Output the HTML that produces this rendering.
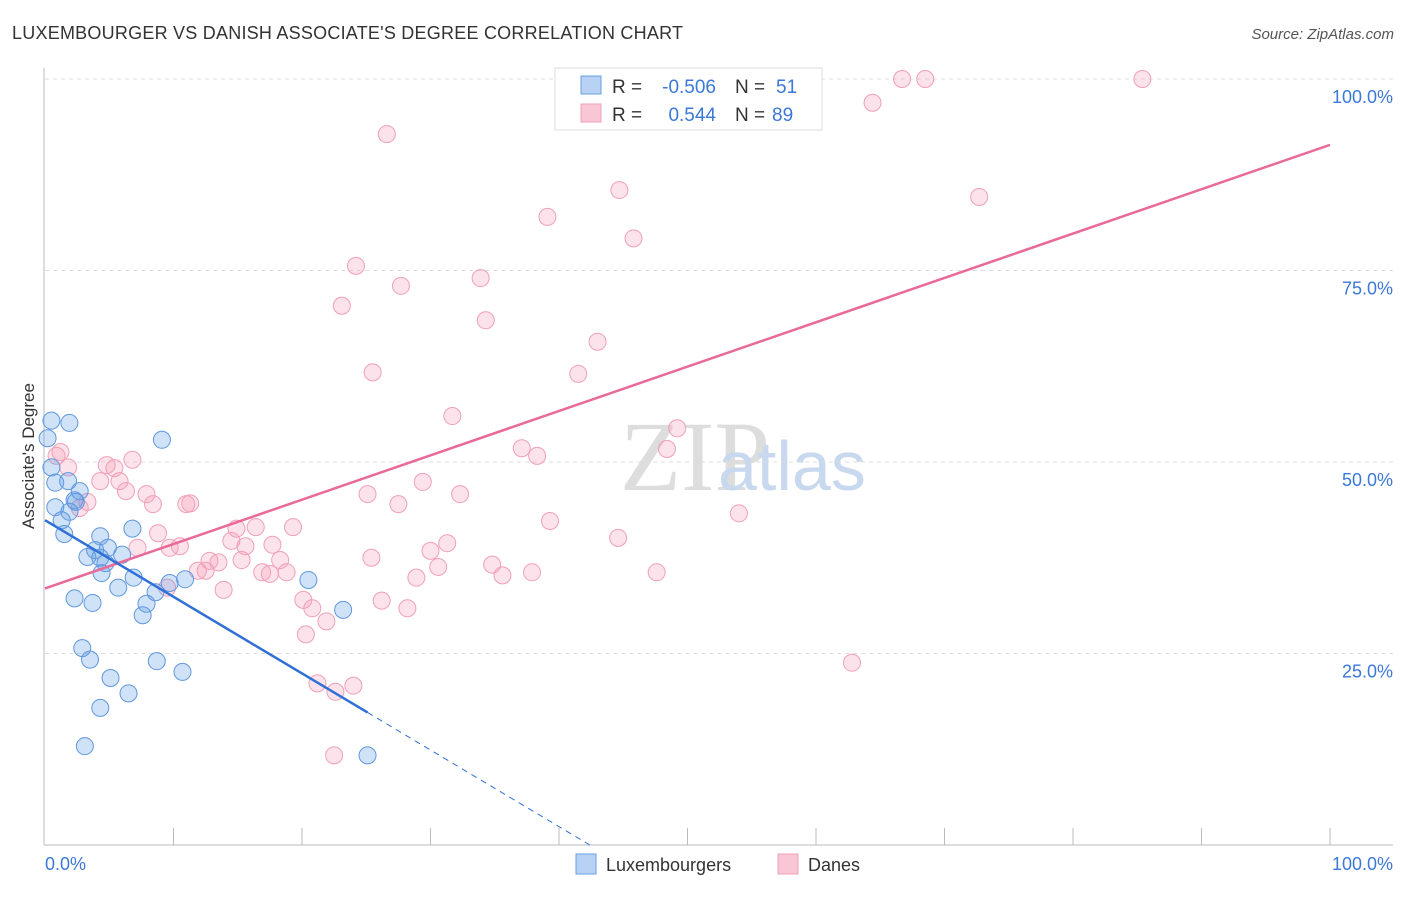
<!DOCTYPE html>
<html><head><meta charset="utf-8"><style>
body{margin:0;background:#fff;font-family:"Liberation Sans",sans-serif;}
</style></head><body>
<svg id="c" width="1406" height="892" xmlns="http://www.w3.org/2000/svg" style="font-family:'Liberation Sans',sans-serif">
<text x="12" y="39" font-size="18" fill="#333" textLength="671">LUXEMBOURGER VS DANISH ASSOCIATE'S DEGREE CORRELATION CHART</text>
<text x="1394" y="39" font-size="15" fill="#555" text-anchor="end" font-style="italic">Source: ZipAtlas.com</text>
<text x="620" y="490" font-size="100" fill="#ddd" font-family="Liberation Serif">ZIP</text>
<text x="718" y="490" font-size="70" fill="#c8d8ee">atlas</text>
<g id="grid"></g>
<g id="marks"></g>
<text x="34" y="456" font-size="17" fill="#333" text-anchor="middle" transform="rotate(-90 34 456)">Associate's Degree</text>
<g>
<rect x="555" y="68" width="267" height="62" fill="#fff" stroke="#ddd"/>
<rect x="581" y="76" width="20" height="18" fill="#b7d2f4" stroke="#6aa0e0"/>
<rect x="581" y="104" width="20" height="18" fill="#f9c6d5" stroke="#f0a0b8"/>
<text x="612" y="93" font-size="19" fill="#333">R =</text>
<text x="716" y="93" font-size="19" fill="#3b78d8" text-anchor="end">-0.506</text>
<text x="735" y="93" font-size="19" fill="#333">N =</text>
<text x="776" y="93" font-size="19" fill="#3b78d8">51</text>
<text x="612" y="121" font-size="19" fill="#333">R =</text>
<text x="716" y="121" font-size="19" fill="#3b78d8" text-anchor="end">0.544</text>
<text x="735" y="121" font-size="19" fill="#333">N =</text>
<text x="772" y="121" font-size="19" fill="#3b78d8">89</text>
</g>
<g>
<rect x="576" y="854" width="20" height="20" fill="#b7d2f4" stroke="#6aa0e0"/>
<text x="606" y="871" font-size="18" fill="#333">Luxembourgers</text>
<rect x="778" y="854" width="20" height="20" fill="#f9c6d5" stroke="#f0a0b8"/>
<text x="808" y="871" font-size="18" fill="#333">Danes</text>
</g>
</svg>
<script>
const yTicks=[25,50,75,100];
const yTickLabels=["25.0%","50.0%","75.0%","100.0%"];
const xTickLabels=["0.0%","100.0%"];
const luxX=[0.5,1.9,0.2,9.1,0.5,0.8,1.8,2.7,2.3,2.4,0.8,1.9,1.3,1.5,6.8,4.3,3.9,4.9,6.0,3.3,4.3,4.7,4.4,6.9,10.9,9.7,20.5,5.7,8.6,2.3,3.7,7.9,7.6,23.2,2.9,3.5,8.7,5.1,10.7,6.5,4.3,3.1,25.1];
const luxY=[55.4,55.1,53.1,52.9,49.3,47.3,47.5,46.2,45.0,44.8,44.1,43.5,42.4,40.6,41.3,40.3,38.5,38.8,37.9,37.6,37.5,36.8,35.5,34.9,34.7,34.2,34.6,33.6,33.0,32.2,31.6,31.5,30.0,30.7,25.7,24.2,24.0,21.8,22.6,19.8,17.9,12.9,11.7];
const danX=[58.2,66.7,68.5,85.4,64.4,26.6,44.7,39.1,72.7,45.8,24.2,33.9,27.7,23.1,34.3,43.0,25.5,41.5,31.7,49.2,37.1,38.3,48.4,1.2,0.9,4.8,6.8,1.8,5.4,4.3,5.8,6.3,7.9,29.4,25.1,32.3,27.5,11.0,11.3,8.4,3.3,2.7,54.0,39.3,44.6,14.9,16.4,19.3,8.8,14.5,31.3,17.7,15.6,7.2,9.7,10.5,30.0,25.4,12.8,13.5,15.3,18.3,34.8,30.6,35.6,37.9,47.6,11.9,12.5,16.9,17.5,18.8,28.9,13.9,9.5,20.1,20.8,21.9,26.2,28.2,20.3,21.2,22.6,24.0,62.8,22.5];
const danY=[100,100,100,100,96.9,92.8,85.5,82.0,84.6,79.2,75.6,74.0,73.0,70.4,68.5,65.7,61.7,61.5,56.0,54.4,51.8,50.8,51.7,51.3,50.8,49.6,50.3,49.3,49.2,47.5,47.5,46.2,45.8,47.4,45.8,45.8,44.5,44.5,44.6,44.5,44.8,44.0,43.3,42.3,40.1,41.3,41.5,41.5,40.7,39.7,39.4,39.2,39.0,38.8,38.8,39.0,38.4,37.5,37.1,36.9,37.2,37.2,36.6,36.3,35.2,35.6,35.6,35.8,35.8,35.6,35.4,35.6,34.9,33.3,33.6,32.0,30.9,29.2,31.9,30.9,27.5,21.1,20.0,20.8,23.8,11.7];
const luxTrend=[42.4,-1.0];
const danTrend=[33.5,0.579];
const NS="http://www.w3.org/2000/svg";
const X=v=>45+v*12.85, Y=v=>845-v*7.66;
function mk(t,a,p){const e=document.createElementNS(NS,t);for(const k in a)e.setAttribute(k,a[k]);p.appendChild(e);return e;}
const g=document.getElementById('grid'), m=document.getElementById('marks');
yTicks.forEach((t,i)=>{
 const l=mk('line',{x1:45,x2:1393,y1:Y(t),y2:Y(t),stroke:'#ddd','stroke-dasharray':'4,4'},g);
 
 
 const tx=mk('text',{x:1393,y:Y(t)+24,'font-size':18,fill:'#3b78d8','text-anchor':'end'},g);tx.textContent=yTickLabels[i];
 
 
});
mk('line',{x1:44,x2:44,y1:68,y2:845,stroke:'#bbb'},g);
mk('line',{x1:44,x2:1393,y1:845,y2:845,stroke:'#bbb'},g);
for(let i=1;i<=10;i++){const t=mk('line',{x1:X(i*10),x2:X(i*10),y1:828,y2:845,stroke:'#bbb'},g);
 
 }
[[0,'start',45],[100,'end',1393]].forEach((d,i)=>{const t=mk('text',{x:d[2],y:870,'font-size':18,fill:'#3b78d8','text-anchor':d[1]},g);t.textContent=xTickLabels[i];
 
 });
function pts(xs,ys,fill,stroke,name){xs.forEach((x,i)=>{const c=mk('circle',{cx:X(x),cy:Y(ys[i]),r:8.5,fill:fill,stroke:stroke,'stroke-width':1},m);
 
 });}
pts(danX,danY,'rgba(245,160,185,0.3)','#f0a0b8','dane-point');
pts(luxX,luxY,'rgba(100,160,230,0.3)','#5f98df','lux-point');
const dl=mk('line',{x1:X(0),y1:Y(danTrend[0]),x2:X(100),y2:Y(danTrend[0]+danTrend[1]*100),stroke:'#e8699a','stroke-width':2.5},m);


const xe=25.1, xz=-luxTrend[0]/luxTrend[1];
const ll=mk('line',{x1:X(0),y1:Y(luxTrend[0]),x2:X(xe),y2:Y(luxTrend[0]+luxTrend[1]*xe),stroke:'#2f6fd6','stroke-width':2.5},m);


const ld=mk('line',{x1:X(xe),y1:Y(luxTrend[0]+luxTrend[1]*xe),x2:X(xz),y2:Y(0),stroke:'#2f6fd6','stroke-width':1,'stroke-dasharray':'6,5'},m);


</script>
</body></html>
